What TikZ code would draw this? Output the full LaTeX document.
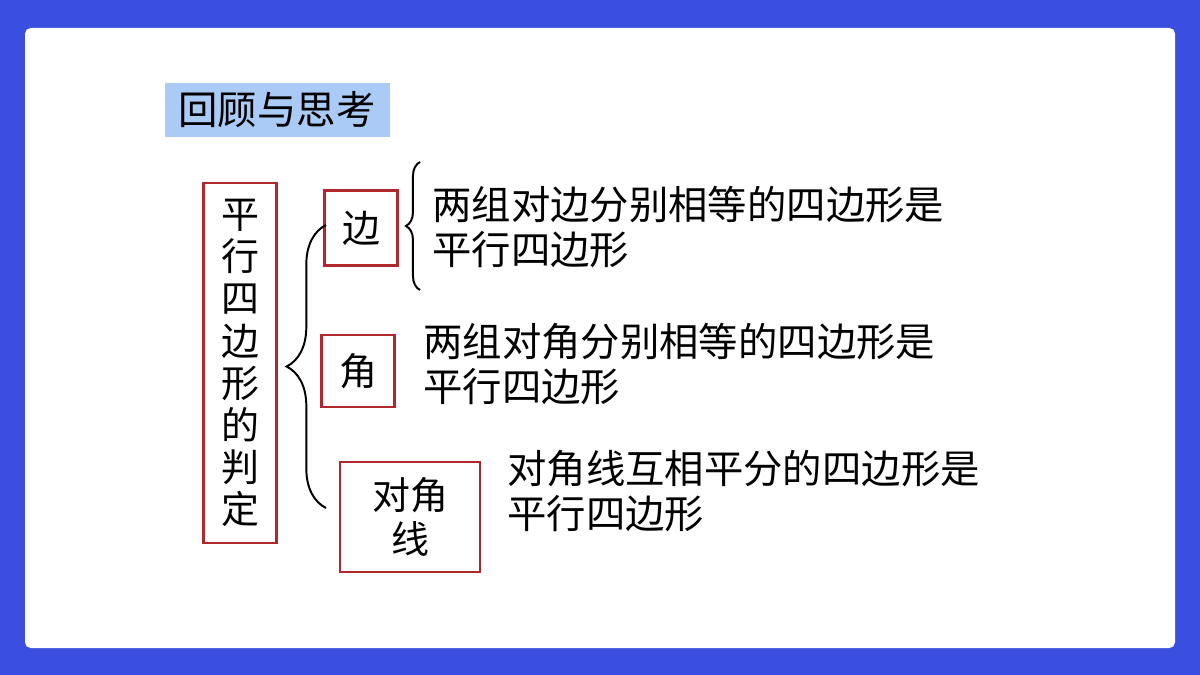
\documentclass[tikz,border=0pt]{standalone}
\usepackage{fontspec}
\newfontfamily\cjk{Noto Sans CJK SC}
\usetikzlibrary{decorations.pathreplacing,calc}
\definecolor{bgblue}{HTML}{3A4FE0}
\definecolor{titleblue}{HTML}{A9CBF5}
\definecolor{boxred}{HTML}{B0282C}
\begin{document}
\begin{tikzpicture}[x=0.025cm,y=-0.025cm]
  \tikzset{redbox/.style = {draw=boxred, line width=1.6pt, inner sep=0pt, font=\cjk\fontsize{27}{31}\selectfont, align=center}}
  \tikzset{say/.style = {anchor=north west, inner sep=0pt, font=\cjk\fontsize{28}{32}\selectfont, align=left}}
  \tikzset{curly/.style = {decorate, line width=1.4pt, decoration={brace, amplitude=#1}}}

  % background
  \fill[bgblue] (0,0) rectangle (1200,675);
  \fill[white, rounded corners=4pt] (25,28) rectangle (1175,648);

  % title
  \node[fill=titleblue, minimum width=225*0.025cm, minimum height=54*0.025cm,
        font=\cjk\fontsize{28}{30}\selectfont] (title) at (277,110) {回顾与思考};

  % boxes
  \node[redbox, minimum width=73*0.025cm, minimum height=360*0.025cm] (main) at (240,363)
    {平\\[-1pt]行\\[-1pt]四\\[-1pt]边\\[-1pt]形\\[-1pt]的\\[-1pt]判\\[-1pt]定};
  \node[redbox, minimum width=73*0.025cm, minimum height=75*0.025cm] (side) at (361,228) {边};
  \node[redbox, minimum width=73*0.025cm, minimum height=72*0.025cm] (angle) at (358,371) {角};
  \node[redbox, minimum width=140*0.025cm, minimum height=110*0.025cm] (diag) at (410,517) {对角\\线};

  % statements
  \node[say] (t1) at (432,186) {两组对边分别相等的四边形是\\平行四边形};
  \node[say] (t2) at (423,323) {两组对角分别相等的四边形是\\平行四边形};
  \node[say] (t3) at (507,450) {对角线互相平分的四边形是\\平行四边形};

  % braces
  \coordinate (b1) at (326,508);
  \coordinate (b2) at (326,225);
  \draw[curly=28pt] (b1) -- (b2);
  \coordinate (s1) at (420,290);
  \coordinate (s2) at (420,162);
  \draw[curly=10pt] (s1) -- (s2);
\end{tikzpicture}
\end{document}
